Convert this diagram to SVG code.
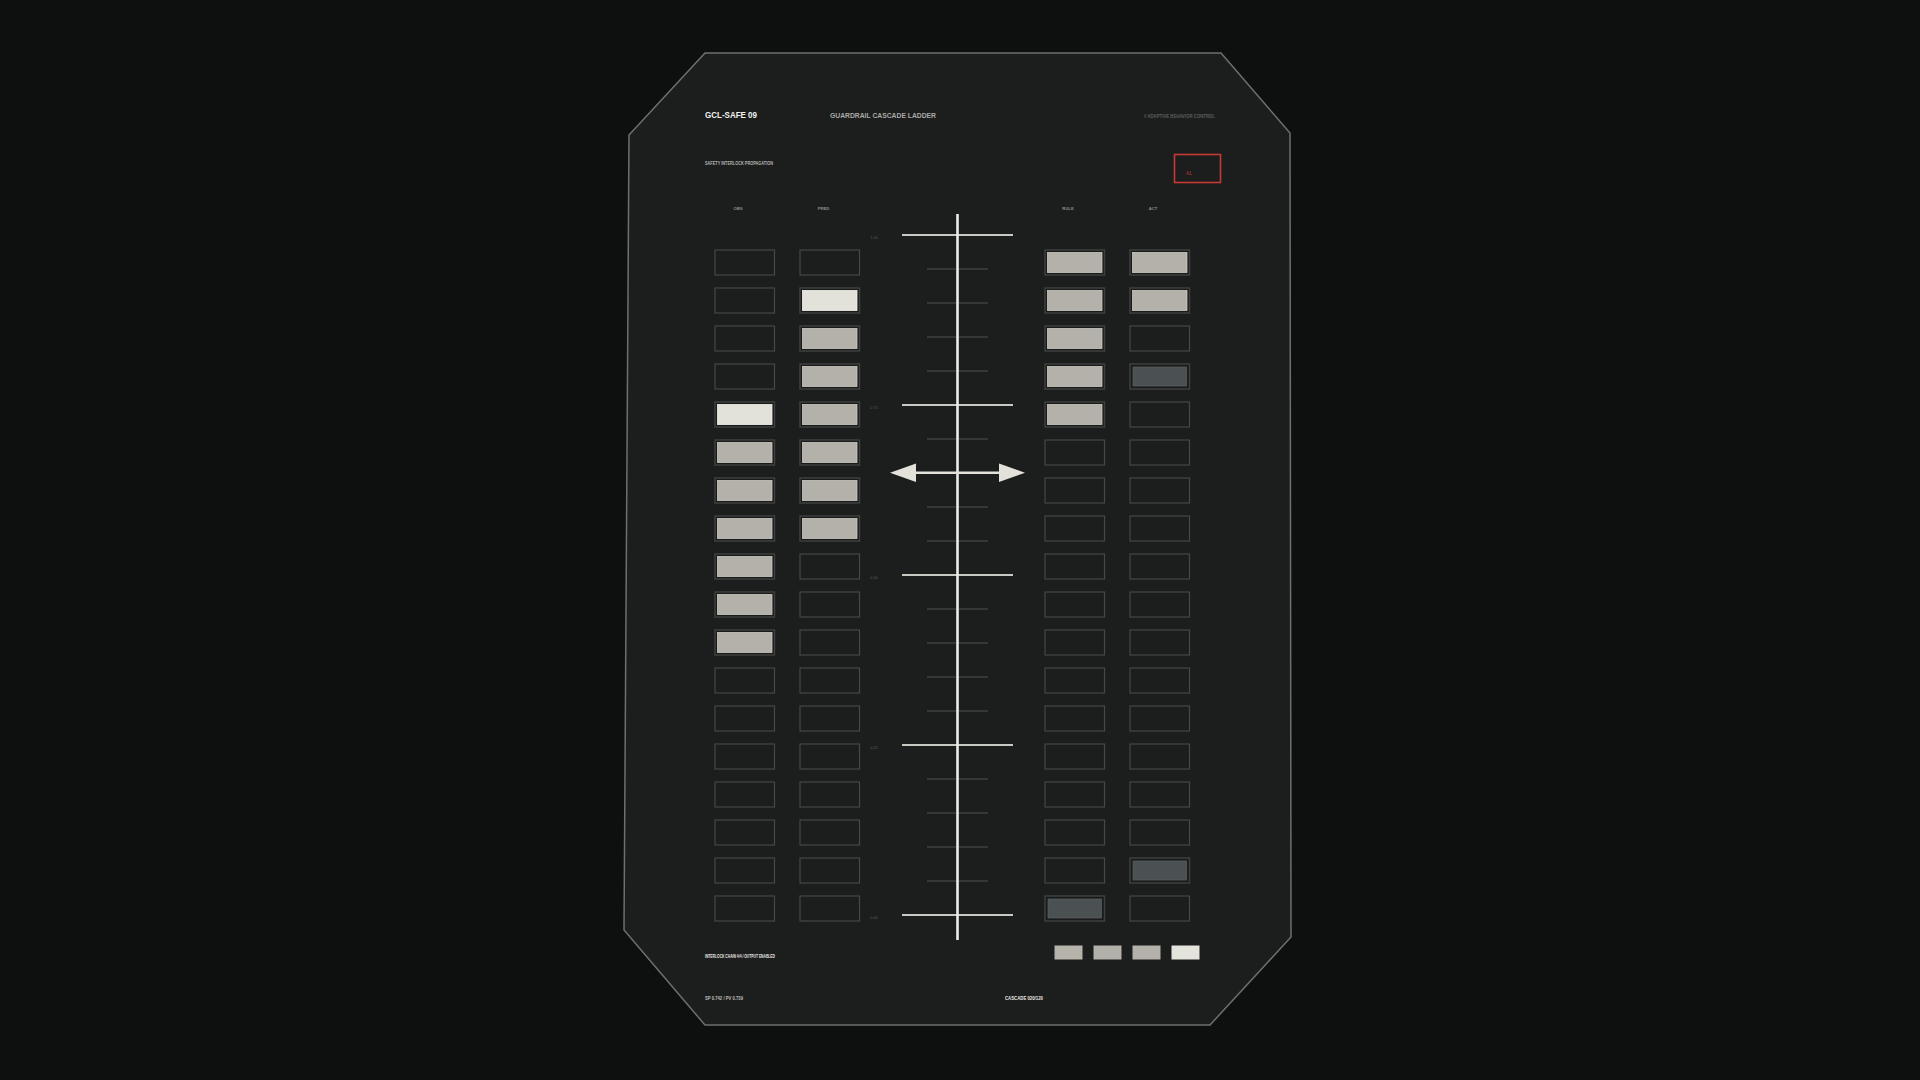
<svg xmlns="http://www.w3.org/2000/svg" width="1920" height="1080" viewBox="0 0 1920 1080">
<defs>
<style>
.bg{fill:#0e1010}
.panel{fill:#1c1d1d;stroke:#6e6f6f;stroke-width:1.5}
.t{font-family:"Liberation Sans","DejaVu Sans",sans-serif}
.title{font-size:8.8px;font-weight:700;fill:#f2f2ee}
.sub{font-size:8px;font-weight:700;fill:#a9aaa8}
.tiny{font-size:4.6px;fill:#9a9b99;font-weight:700}
.dim{font-size:4.6px;fill:#5d5e5e;font-weight:700}
.foot{font-size:4.8px;fill:#e8e8e4;font-weight:700}
.hdr{font-size:4.2px;fill:#8d8e8c;font-weight:700;text-anchor:middle}
.scl{font-size:3.8px;fill:#5a5b5b;text-anchor:middle}
.empty{fill:none;stroke:#464747;stroke-width:1.2}
.frame{fill:#191a1a;stroke:#3e3f3f;stroke-width:1.5}
.g{fill:#b3b1a9;stroke:#cdcbc3;stroke-width:.8}
.b{fill:#e2e2da;stroke:#f4f4ee;stroke-width:.8}
.d{fill:#4b5053;stroke:#575c5f;stroke-width:.8}
.major{stroke:#c9c9c4;stroke-width:2}
.minor{stroke:#4f5050;stroke-width:1}
.axis{stroke:#ededea;stroke-width:2.6}
.arrow{stroke:#e2e2da;stroke-width:2.6}
.head{fill:#e2e2da}
.lg{fill:#b3b1a9}
</style>
</defs>
<rect class="bg" x="0" y="0" width="1920" height="1080"/>
<g id="panel">
<polygon class="panel" points="705,53 1221,53 1290,133 1291,937 1210,1025 705,1025 624,930 629,135"/>
</g>
<g id="header">
<text class="t title" x="705" y="118" textLength="52" lengthAdjust="spacingAndGlyphs">GCL-SAFE 09</text>
<text class="t sub" x="830" y="118" textLength="106" lengthAdjust="spacingAndGlyphs">GUARDRAIL CASCADE LADDER</text>
<text class="t dim" x="1144" y="117.5" textLength="71" lengthAdjust="spacingAndGlyphs">// ADAPTIVE BEHAVIOR CONTROL</text>
<text class="t tiny" x="705" y="164.5" textLength="68" lengthAdjust="spacingAndGlyphs" style="fill:#b5b6b3">SAFETY INTERLOCK PROPAGATION</text>
</g>
<g id="badge-a1">
<rect x="1174.5" y="154.5" width="46" height="28" fill="none" stroke="#c53a35" stroke-width="1.6"/>
<text class="t" x="1186" y="175" font-size="4.6" fill="#c53a35">A1</text>
</g>
<g id="column-headers">
<text class="t hdr" x="738" y="210">OBS</text>
<text class="t hdr" x="823.5" y="210">PRED</text>
<text class="t hdr" x="1068" y="210">RULE</text>
<text class="t hdr" x="1153" y="210">ACT</text>
</g>
<g id="scale">
<line class="minor" x1="927" y1="269" x2="988" y2="269"/>
<line class="minor" x1="927" y1="303" x2="988" y2="303"/>
<line class="minor" x1="927" y1="337" x2="988" y2="337"/>
<line class="minor" x1="927" y1="371" x2="988" y2="371"/>
<line class="minor" x1="927" y1="439" x2="988" y2="439"/>
<line class="minor" x1="927" y1="473" x2="988" y2="473"/>
<line class="minor" x1="927" y1="507" x2="988" y2="507"/>
<line class="minor" x1="927" y1="541" x2="988" y2="541"/>
<line class="minor" x1="927" y1="609" x2="988" y2="609"/>
<line class="minor" x1="927" y1="643" x2="988" y2="643"/>
<line class="minor" x1="927" y1="677" x2="988" y2="677"/>
<line class="minor" x1="927" y1="711" x2="988" y2="711"/>
<line class="minor" x1="927" y1="779" x2="988" y2="779"/>
<line class="minor" x1="927" y1="813" x2="988" y2="813"/>
<line class="minor" x1="927" y1="847" x2="988" y2="847"/>
<line class="minor" x1="927" y1="881" x2="988" y2="881"/>
<line class="major" x1="902" y1="235" x2="1013" y2="235"/>
<line class="major" x1="902" y1="405" x2="1013" y2="405"/>
<line class="major" x1="902" y1="575" x2="1013" y2="575"/>
<line class="major" x1="902" y1="745" x2="1013" y2="745"/>
<line class="major" x1="902" y1="915" x2="1013" y2="915"/>
<text class="t scl" x="874" y="239">1.00</text>
<text class="t scl" x="874" y="409">0.75</text>
<text class="t scl" x="874" y="579">0.50</text>
<text class="t scl" x="874" y="749">0.25</text>
<text class="t scl" x="874" y="919">0.00</text>
<line class="axis" x1="957.5" y1="214" x2="957.5" y2="940"/>
</g>
<g id="connectors">
<line class="arrow" x1="912" y1="472.7" x2="1003" y2="472.7"/>
<polygon class="head" points="890,472.7 916,463.5 916,482"/>
<polygon class="head" points="1025,472.7 999,463.5 999,482"/>
</g>
<g id="obs">
<g id="obs-01"><rect class="empty" x="715" y="250" width="59.5" height="25"/></g>
<g id="obs-02"><rect class="empty" x="715" y="288" width="59.5" height="25"/></g>
<g id="obs-03"><rect class="empty" x="715" y="326" width="59.5" height="25"/></g>
<g id="obs-04"><rect class="empty" x="715" y="364" width="59.5" height="25"/></g>
<g id="obs-05"><rect class="frame" x="715" y="402" width="59.5" height="25"/><rect class="b" x="717.5" y="404.5" width="54.5" height="20"/></g>
<g id="obs-06"><rect class="frame" x="715" y="440" width="59.5" height="25"/><rect class="g" x="717.5" y="442.5" width="54.5" height="20"/></g>
<g id="obs-07"><rect class="frame" x="715" y="478" width="59.5" height="25"/><rect class="g" x="717.5" y="480.5" width="54.5" height="20"/></g>
<g id="obs-08"><rect class="frame" x="715" y="516" width="59.5" height="25"/><rect class="g" x="717.5" y="518.5" width="54.5" height="20"/></g>
<g id="obs-09"><rect class="frame" x="715" y="554" width="59.5" height="25"/><rect class="g" x="717.5" y="556.5" width="54.5" height="20"/></g>
<g id="obs-10"><rect class="frame" x="715" y="592" width="59.5" height="25"/><rect class="g" x="717.5" y="594.5" width="54.5" height="20"/></g>
<g id="obs-11"><rect class="frame" x="715" y="630" width="59.5" height="25"/><rect class="g" x="717.5" y="632.5" width="54.5" height="20"/></g>
<g id="obs-12"><rect class="empty" x="715" y="668" width="59.5" height="25"/></g>
<g id="obs-13"><rect class="empty" x="715" y="706" width="59.5" height="25"/></g>
<g id="obs-14"><rect class="empty" x="715" y="744" width="59.5" height="25"/></g>
<g id="obs-15"><rect class="empty" x="715" y="782" width="59.5" height="25"/></g>
<g id="obs-16"><rect class="empty" x="715" y="820" width="59.5" height="25"/></g>
<g id="obs-17"><rect class="empty" x="715" y="858" width="59.5" height="25"/></g>
<g id="obs-18"><rect class="empty" x="715" y="896" width="59.5" height="25"/></g>
</g>
<g id="pred">
<g id="pred-01"><rect class="empty" x="800" y="250" width="59.5" height="25"/></g>
<g id="pred-02"><rect class="frame" x="800" y="288" width="59.5" height="25"/><rect class="b" x="802.5" y="290.5" width="54.5" height="20"/></g>
<g id="pred-03"><rect class="frame" x="800" y="326" width="59.5" height="25"/><rect class="g" x="802.5" y="328.5" width="54.5" height="20"/></g>
<g id="pred-04"><rect class="frame" x="800" y="364" width="59.5" height="25"/><rect class="g" x="802.5" y="366.5" width="54.5" height="20"/></g>
<g id="pred-05"><rect class="frame" x="800" y="402" width="59.5" height="25"/><rect class="g" x="802.5" y="404.5" width="54.5" height="20"/></g>
<g id="pred-06"><rect class="frame" x="800" y="440" width="59.5" height="25"/><rect class="g" x="802.5" y="442.5" width="54.5" height="20"/></g>
<g id="pred-07"><rect class="frame" x="800" y="478" width="59.5" height="25"/><rect class="g" x="802.5" y="480.5" width="54.5" height="20"/></g>
<g id="pred-08"><rect class="frame" x="800" y="516" width="59.5" height="25"/><rect class="g" x="802.5" y="518.5" width="54.5" height="20"/></g>
<g id="pred-09"><rect class="empty" x="800" y="554" width="59.5" height="25"/></g>
<g id="pred-10"><rect class="empty" x="800" y="592" width="59.5" height="25"/></g>
<g id="pred-11"><rect class="empty" x="800" y="630" width="59.5" height="25"/></g>
<g id="pred-12"><rect class="empty" x="800" y="668" width="59.5" height="25"/></g>
<g id="pred-13"><rect class="empty" x="800" y="706" width="59.5" height="25"/></g>
<g id="pred-14"><rect class="empty" x="800" y="744" width="59.5" height="25"/></g>
<g id="pred-15"><rect class="empty" x="800" y="782" width="59.5" height="25"/></g>
<g id="pred-16"><rect class="empty" x="800" y="820" width="59.5" height="25"/></g>
<g id="pred-17"><rect class="empty" x="800" y="858" width="59.5" height="25"/></g>
<g id="pred-18"><rect class="empty" x="800" y="896" width="59.5" height="25"/></g>
</g>
<g id="rule">
<g id="rule-01"><rect class="frame" x="1045" y="250" width="59.5" height="25"/><rect class="g" x="1047.5" y="252.5" width="54.5" height="20"/></g>
<g id="rule-02"><rect class="frame" x="1045" y="288" width="59.5" height="25"/><rect class="g" x="1047.5" y="290.5" width="54.5" height="20"/></g>
<g id="rule-03"><rect class="frame" x="1045" y="326" width="59.5" height="25"/><rect class="g" x="1047.5" y="328.5" width="54.5" height="20"/></g>
<g id="rule-04"><rect class="frame" x="1045" y="364" width="59.5" height="25"/><rect class="g" x="1047.5" y="366.5" width="54.5" height="20"/></g>
<g id="rule-05"><rect class="frame" x="1045" y="402" width="59.5" height="25"/><rect class="g" x="1047.5" y="404.5" width="54.5" height="20"/></g>
<g id="rule-06"><rect class="empty" x="1045" y="440" width="59.5" height="25"/></g>
<g id="rule-07"><rect class="empty" x="1045" y="478" width="59.5" height="25"/></g>
<g id="rule-08"><rect class="empty" x="1045" y="516" width="59.5" height="25"/></g>
<g id="rule-09"><rect class="empty" x="1045" y="554" width="59.5" height="25"/></g>
<g id="rule-10"><rect class="empty" x="1045" y="592" width="59.5" height="25"/></g>
<g id="rule-11"><rect class="empty" x="1045" y="630" width="59.5" height="25"/></g>
<g id="rule-12"><rect class="empty" x="1045" y="668" width="59.5" height="25"/></g>
<g id="rule-13"><rect class="empty" x="1045" y="706" width="59.5" height="25"/></g>
<g id="rule-14"><rect class="empty" x="1045" y="744" width="59.5" height="25"/></g>
<g id="rule-15"><rect class="empty" x="1045" y="782" width="59.5" height="25"/></g>
<g id="rule-16"><rect class="empty" x="1045" y="820" width="59.5" height="25"/></g>
<g id="rule-17"><rect class="empty" x="1045" y="858" width="59.5" height="25"/></g>
<g id="rule-18"><rect class="frame" x="1045" y="896" width="59.5" height="25"/><rect class="d" x="1048" y="899" width="53.5" height="19"/></g>
</g>
<g id="act">
<g id="act-01"><rect class="frame" x="1130" y="250" width="59.5" height="25"/><rect class="g" x="1132.5" y="252.5" width="54.5" height="20"/></g>
<g id="act-02"><rect class="frame" x="1130" y="288" width="59.5" height="25"/><rect class="g" x="1132.5" y="290.5" width="54.5" height="20"/></g>
<g id="act-03"><rect class="empty" x="1130" y="326" width="59.5" height="25"/></g>
<g id="act-04"><rect class="frame" x="1130" y="364" width="59.5" height="25"/><rect class="d" x="1133" y="367" width="53.5" height="19"/></g>
<g id="act-05"><rect class="empty" x="1130" y="402" width="59.5" height="25"/></g>
<g id="act-06"><rect class="empty" x="1130" y="440" width="59.5" height="25"/></g>
<g id="act-07"><rect class="empty" x="1130" y="478" width="59.5" height="25"/></g>
<g id="act-08"><rect class="empty" x="1130" y="516" width="59.5" height="25"/></g>
<g id="act-09"><rect class="empty" x="1130" y="554" width="59.5" height="25"/></g>
<g id="act-10"><rect class="empty" x="1130" y="592" width="59.5" height="25"/></g>
<g id="act-11"><rect class="empty" x="1130" y="630" width="59.5" height="25"/></g>
<g id="act-12"><rect class="empty" x="1130" y="668" width="59.5" height="25"/></g>
<g id="act-13"><rect class="empty" x="1130" y="706" width="59.5" height="25"/></g>
<g id="act-14"><rect class="empty" x="1130" y="744" width="59.5" height="25"/></g>
<g id="act-15"><rect class="empty" x="1130" y="782" width="59.5" height="25"/></g>
<g id="act-16"><rect class="empty" x="1130" y="820" width="59.5" height="25"/></g>
<g id="act-17"><rect class="frame" x="1130" y="858" width="59.5" height="25"/><rect class="d" x="1133" y="861" width="53.5" height="19"/></g>
<g id="act-18"><rect class="empty" x="1130" y="896" width="59.5" height="25"/></g>
</g>
<g id="legend">
<rect class="lg" x="1054.5" y="945.5" width="28" height="14" style="fill:#b6b3ab"/>
<rect class="lg" x="1093.5" y="945.5" width="28" height="14" style="fill:#b1b0a9"/>
<rect class="lg" x="1132.5" y="945.5" width="28" height="14" style="fill:#b4b1aa"/>
<rect class="lg" x="1171.5" y="945.5" width="28" height="14" style="fill:#e4e4dc"/>
</g>
<g id="footer">
<text class="t foot" x="705" y="957.5" textLength="70" lengthAdjust="spacingAndGlyphs">INTERLOCK CHAIN 4/4 / OUTPUT ENABLED</text>
<text class="t foot" x="705" y="999.5" textLength="38" lengthAdjust="spacingAndGlyphs" style="fill:#bdbdb9">SP 0.742 / PV 0.739</text>
<text class="t foot" x="1005" y="999.5" textLength="38" lengthAdjust="spacingAndGlyphs">CASCADE 020/120</text>
</g>
</svg>
